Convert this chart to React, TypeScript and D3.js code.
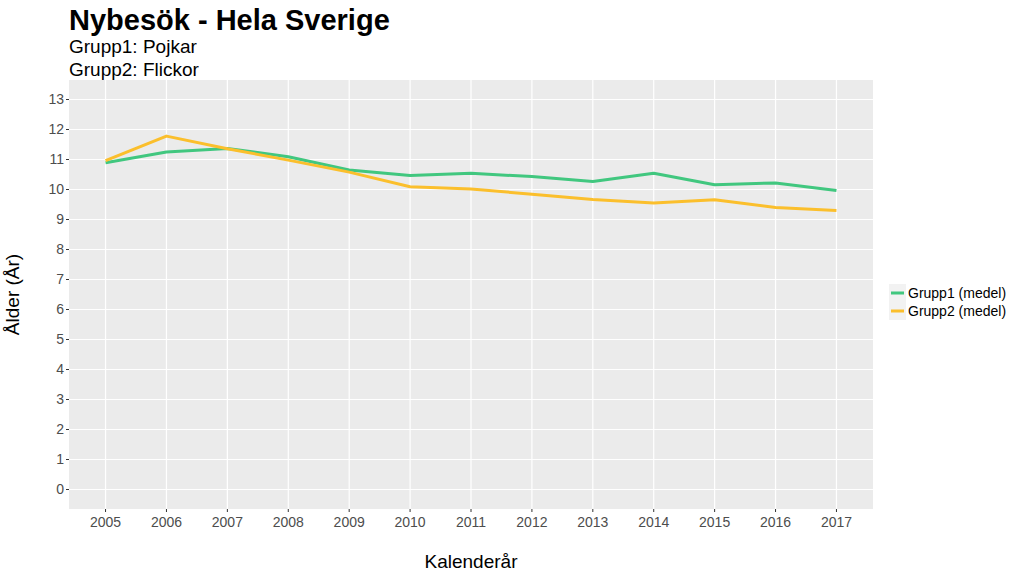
import React from "react";
import * as d3 from "d3";

const years = [2005, 2006, 2007, 2008, 2009, 2010, 2011, 2012, 2013, 2014, 2015, 2016, 2017];
const grupp1 = [10.89, 11.25, 11.37, 11.09, 10.65, 10.47, 10.54, 10.43, 10.27, 10.54, 10.16, 10.22, 9.97];
const grupp2 = [10.96, 11.78, 11.36, 10.98, 10.58, 10.09, 10.02, 9.84, 9.67, 9.55, 9.66, 9.40, 9.30];
const yTicks = [0, 1, 2, 3, 4, 5, 6, 7, 8, 9, 10, 11, 12, 13];
const seriesNames = ["Grupp1 (medel)", "Grupp2 (medel)"];
const colors = ["#41c77f", "#fbbf2c"];

const W = 1024, H = 576;
const P = { left: 69, right: 873, top: 80, bottom: 509 };
const font = "'Liberation Sans', Arial, Helvetica, sans-serif";

export default function App() {
  const x = d3.scaleLinear().domain([2005 - 0.6, 2017 + 0.6]).range([P.left, P.right]);
  const y = d3.scaleLinear().domain([-0.65, 13.65]).range([P.bottom, P.top]);
  const line = d3.line<number>().x((_, i) => x(years[i])).y((d) => y(d));
  const series = [grupp1, grupp2];

  return (
    <svg width={W} height={H} style={{ position: "absolute", left: 0, top: 0, background: "#fff" }} fontFamily={font}>
      <rect x={P.left} y={P.top} width={P.right - P.left} height={P.bottom - P.top} fill="#ebebeb" />
      {yTicks.map((t) => (
        <line key={"gy" + t} x1={P.left} x2={P.right} y1={y(t)} y2={y(t)} stroke="#fff" strokeWidth={1.2} />
      ))}
      {years.map((t) => (
        <line key={"gx" + t} x1={x(t)} x2={x(t)} y1={P.top} y2={P.bottom} stroke="#fff" strokeWidth={1.2} />
      ))}
      {series.map((s, i) => (
        <path key={"s" + i} d={line(s) || ""} fill="none" stroke={colors[i]} strokeWidth={3} strokeLinejoin="round" />
      ))}
      {yTicks.map((t) => (
        <g key={"ty" + t}>
          <line x1={P.left - 3} x2={P.left} y1={y(t)} y2={y(t)} stroke="#333" strokeWidth={1} />
          <text x={P.left - 5} y={y(t)} dy="0.35em" textAnchor="end" fontSize={14} fill="#4d4d4d">{t}</text>
        </g>
      ))}
      {years.map((t) => (
        <g key={"tx" + t}>
          <line x1={x(t)} x2={x(t)} y1={P.bottom} y2={P.bottom + 3} stroke="#333" strokeWidth={1} />
          <text x={x(t)} y={P.bottom + 18} textAnchor="middle" fontSize={14} fill="#4d4d4d">{t}</text>
        </g>
      ))}
      <text x={(P.left + P.right) / 2} y={568} textAnchor="middle" fontSize={19} fill="#000">Kalenderår</text>
      <text transform={`translate(19,${(P.top + P.bottom) / 2}) rotate(-90)`} textAnchor="middle" fontSize={19} fill="#000">Ålder (År)</text>
      <text x={69} y={30} fontSize={29} fontWeight="bold" fill="#000">Nybesök - Hela Sverige</text>
      <text x={69} y={53} fontSize={19} fill="#000">Grupp1: Pojkar</text>
      <text x={69} y={76} fontSize={19} fill="#000">Grupp2: Flickor</text>
      {seriesNames.map((n, i) => (
        <g key={"l" + i} transform={`translate(889,${284 + i * 18})`}>
          <rect x={0} y={0} width={17} height={18} fill="#f2f2f2" />
          <line x1={2} x2={15} y1={9} y2={9} stroke={colors[i]} strokeWidth={3} />
          <text x={19} y={9} dy="0.35em" fontSize={14} fill="#000">{n}</text>
        </g>
      ))}
    </svg>
  );
}
